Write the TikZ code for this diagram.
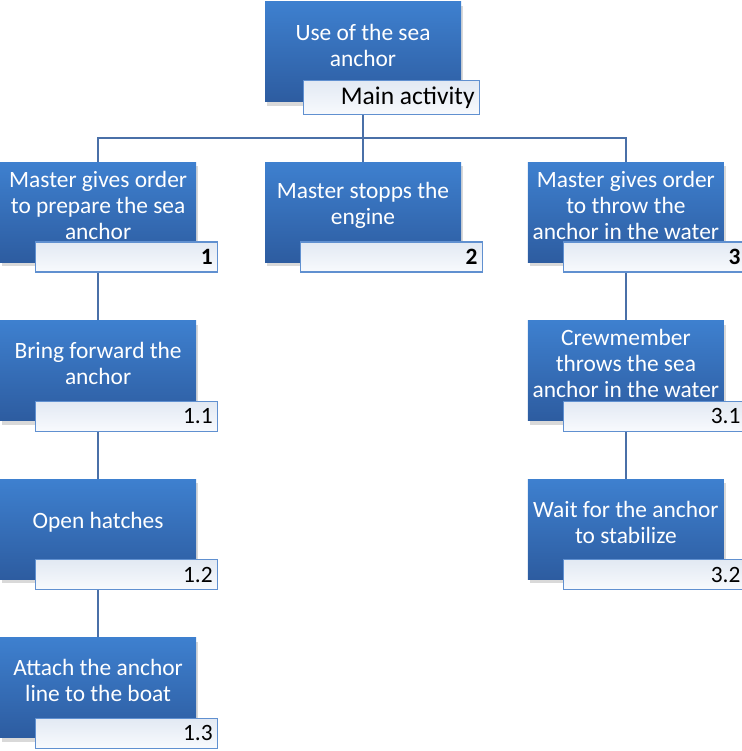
\documentclass[tikz,border=0pt]{standalone}
\usepackage{fontspec}
\setmainfont{Carlito}
\definecolor{BoxTop}{RGB}{62,128,207}
\definecolor{BoxBottom}{RGB}{45,92,160}
\definecolor{TagTop}{RGB}{226,233,243}
\definecolor{TagBottom}{RGB}{248,250,253}
\definecolor{TagEdge}{RGB}{96,144,208}
\definecolor{LinkBlue}{RGB}{74,112,168}
\usetikzlibrary{positioning,shadows,backgrounds}
\tikzset{
  task/.style={top color=BoxTop,bottom color=BoxBottom,text=white,
    minimum width=196pt,minimum height=100pt,text width=196pt,inner xsep=0pt,
    align=flush center,font=\fontsize{23.4}{26}\selectfont,
    drop shadow={shadow xshift=2pt,shadow yshift=-4pt,opacity=0.3},
    execute at end node={\par\kern14pt}},
  tag/.style={draw=TagEdge,line width=1.2pt,top color=TagTop,bottom color=TagBottom,
    minimum width=182pt,minimum height=30pt,text width=172pt,inner xsep=5pt,
    inner ysep=0pt,align=flush right,font=\fontsize{23.4}{26}\selectfont},
  maintag/.style={tag,minimum width=176pt,minimum height=34pt,text width=166pt,
    font=\fontsize{25.5}{28}\selectfont},
  link/.style={draw=LinkBlue,line width=2pt}
}
\begin{document}
\begin{tikzpicture}[x=1pt,y=-1pt]
\useasboundingbox (0,0) rectangle (741,751);
% top of the tree
\node[task] (top) at (363,52) {Use of the sea\\anchor};
\node[maintag,anchor=south east] (ttop) at ([xshift=19pt,yshift=-13pt]top.south east) {Main activity};
% first level
\node[task,below=60pt of top] (b2) {Master stopps the\\engine};
\node[task,left=68.5pt of b2] (b1) {Master gives order\\to prepare the sea\\anchor};
\node[task,right=66.5pt of b2] (b3) {Master gives order\\to throw the\\anchor in the water};
\node[tag,anchor=south east] (t1) at ([xshift=22pt,yshift=-10pt]b1.south east) {\textbf{1}};
\node[tag,anchor=south east] (t2) at ([xshift=22pt,yshift=-10pt]b2.south east) {\textbf{2}};
\node[tag,anchor=south east] (t3) at ([xshift=22pt,yshift=-10pt]b3.south east) {\textbf{3}};
% steps under 1
\node[task,below=58pt of b1] (b11) {Bring forward the\\anchor};
\node[task,below=58pt of b11] (b12) {Open hatches};
\node[task,below=58pt of b12] (b13) {Attach the anchor\\line to the boat};
\node[tag,anchor=south east] (t11) at ([xshift=22pt,yshift=-11pt]b11.south east) {1.1};
\node[tag,anchor=south east] (t12) at ([xshift=22pt,yshift=-11pt]b12.south east) {1.2};
\node[tag,anchor=south east] (t13) at ([xshift=22pt,yshift=-11pt]b13.south east) {1.3};
% steps under 3
\node[task,below=58pt of b3] (b31) {Crewmember\\throws the sea\\anchor in the water};
\node[task,below=58pt of b31] (b32) {Wait for the anchor\\to stabilize};
\node[tag,anchor=south east] (t31) at ([xshift=22pt,yshift=-11pt]b31.south east) {3.1};
\node[tag,anchor=south east] (t32) at ([xshift=22pt,yshift=-11pt]b32.south east) {3.2};
% connectors
\begin{scope}[on background layer]
\coordinate (hub) at ([yshift=-36pt]top.south);
\draw[link] (top.south) -- (hub);
\draw[link] (hub) -| (b1.north);
\draw[link] (hub) -| (b3.north);
\draw[link] (hub) -- (b2.north);
\draw[link] (b1.south) -- (b11.north);
\draw[link] (b11.south) -- (b12.north);
\draw[link] (b12.south) -- (b13.north);
\draw[link] (b3.south) -- (b31.north);
\draw[link] (b31.south) -- (b32.north);
\end{scope}
\end{tikzpicture}
\end{document}
